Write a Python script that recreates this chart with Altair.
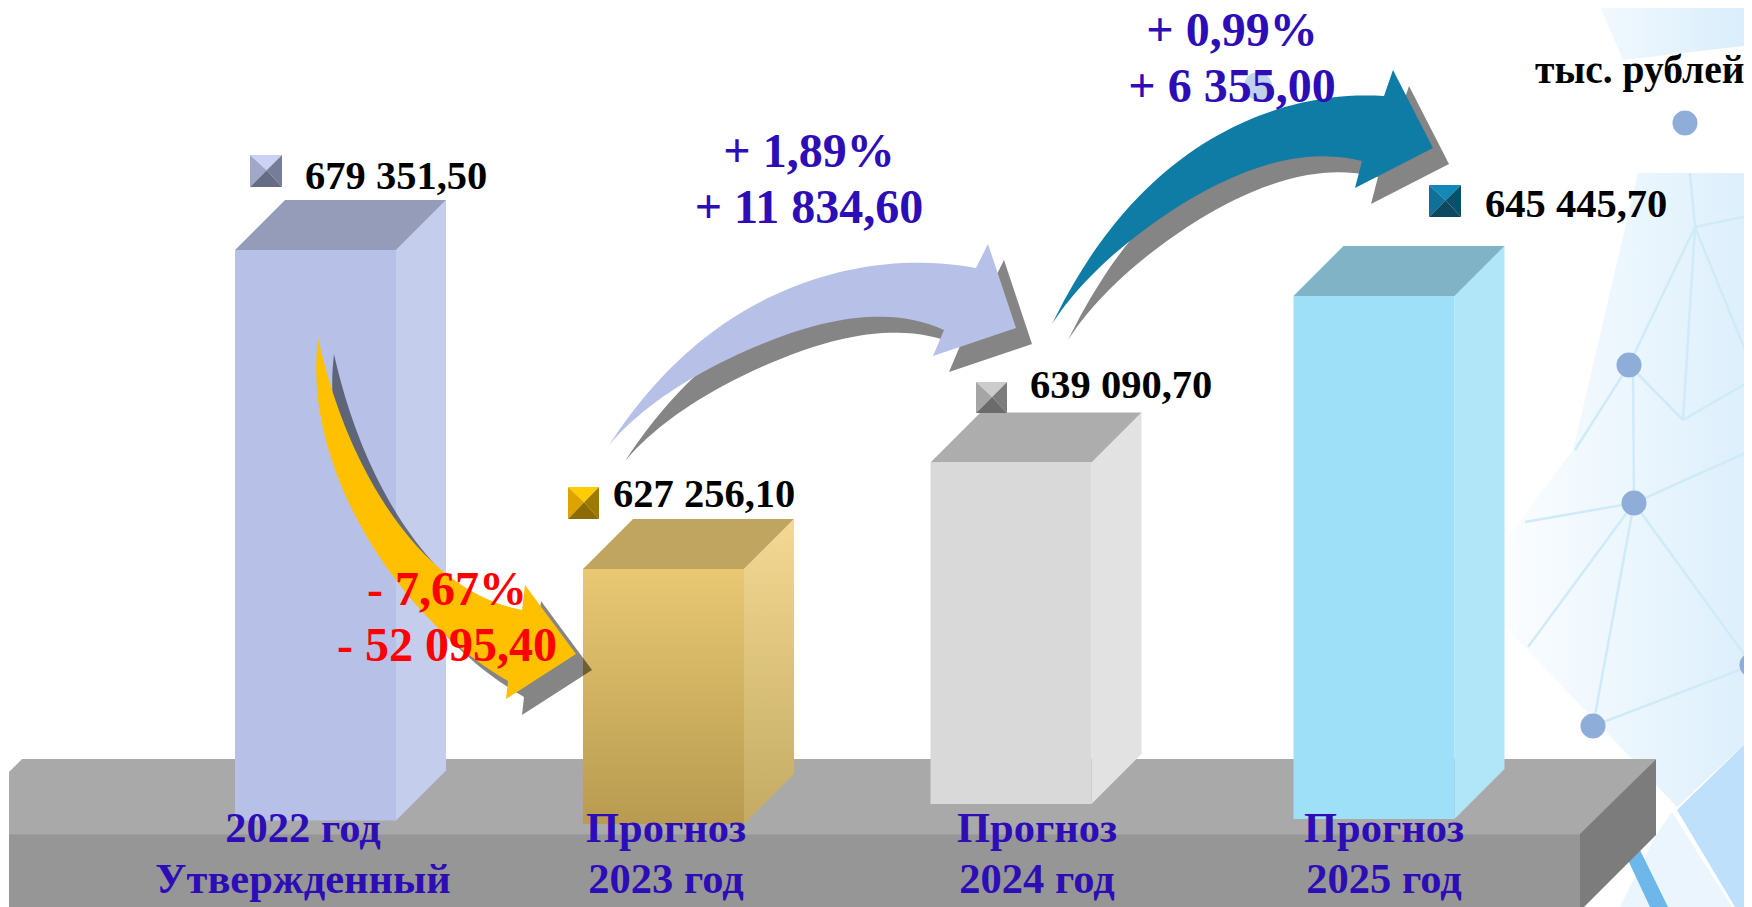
import altair as alt
import numpy as np

# ---- data ----
values = [679351.50, 627256.10, 639090.70, 645445.70]
value_labels = ["679 351,50", "627 256,10", "639 090,70", "645 445,70"]
categories = ["2022 год\nУтвержденный", "Прогноз\n2023 год", "Прогноз\n2024 год", "Прогноз\n2025 год"]
delta_labels = ["- 7,67%\n- 52 095,40", "+ 1,89%\n+ 11 834,60", "+ 0,99%\n+ 6 355,00"]
unit_label = "тыс. рублей"

SERIF = "Liberation Serif"
BLUE_TXT = "#2D0DB5"
OX, OY = 8, 8
W, H = 1736, 899

# The picture's bar heights are not proportional: a piecewise value scale reproduces them.
y_dom = [627256.10, 639090.70, 645445.70, 679351.50]
y_rng = [569, 462.5, 296, 250]
Y_SCALE = alt.Scale(domain=y_dom, range=[v - OY for v in y_rng], zero=False, nice=False)
x_dom = [0, 1, 2, 3]
x_rng = [315.5, 663.5, 1011, 1374]
X_SCALE = alt.Scale(domain=x_dom, range=[v - OX for v in x_rng], zero=False, nice=False)
BAR_W = 161
DEPTH = 50
bottoms = [820.5, 824, 804, 819]

def y_of(v):
    return float(np.interp(v, y_dom, y_rng))

def feat(coords, **props):
    return {"type": "Feature", "properties": props,
            "geometry": {"type": "Polygon", "coordinates": [[list(map(float, p)) for p in coords] + [list(map(float, coords[0]))]]}}

def line_feat(a, b):
    return {"type": "Feature", "properties": {},
            "geometry": {"type": "LineString", "coordinates": [list(map(float, a)), list(map(float, b))]}}

def shapes(feats, **kw):
    kw.setdefault("opacity", 1)
    return alt.Chart(alt.Data(values=feats)).mark_geoshape(**kw).project(type="identity", scale=1, translate=[-OX, -OY])

def flat(coords, color, **kw):
    return shapes([feat(coords)], fill=color, stroke=None, **kw)

def grad(c1, c2, horizontal=False):
    g = dict(x1=0, y1=0, x2=1 if horizontal else 0, y2=0 if horizontal else 1)
    return alt.LinearGradient(gradient="linear", stops=[alt.GradientStop(color=c1, offset=0), alt.GradientStop(color=c2, offset=1)], **g)

def circle(cx, cy, r, n=40):
    return [(cx + r * np.cos(t), cy + r * np.sin(t)) for t in np.linspace(0, 2 * np.pi, n, endpoint=False)]

def smooth(pts, n=48, deg=4):
    """Smooth arrow edge through hand-read outline points (weighted polynomial in chord length)."""
    p = np.array(pts, float)
    s = np.r_[0, np.cumsum(np.hypot(*np.diff(p, axis=0).T))]
    s = s / s[-1]
    w = np.ones(len(p))
    w[[0, -1]] = 30
    fx, fy = np.polyfit(s, p[:, 0], deg, w=w), np.polyfit(s, p[:, 1], deg, w=w)
    t = np.linspace(0, 1, n)
    return list(zip(np.polyval(fx, t), np.polyval(fy, t)))

layers = []

# ---- background decoration ----
layers.append(shapes([feat([(1597, 0), (1623, 60), (1752, 45), (1752, 0)])], fill=grad("#F2F9FE", "#D8EDFB", True), stroke=None))
layers.append(shapes([feat([(1638, 173), (1752, 173), (1752, 737), (1677, 807), (1630, 757), (1505, 627), (1505, 540), (1573, 450)])],
                     fill=grad("#FBFDFF", "#DCEFFC", True), stroke=None))
layers.append(flat([(1677, 810), (1752, 737), (1752, 907), (1735, 907)], "#BFE0FA"))
layers.append(flat([(1656, 835), (1672, 812), (1732, 907), (1620, 907)], "#EAF5FD"))
layers.append(flat([(1628, 860), (1640, 850), (1668, 907), (1650, 907)], "#6DB7EA"))
net = [((1634, 503), (1525, 522)), ((1634, 503), (1528, 647)), ((1634, 503), (1593, 726)), ((1634, 503), (1752, 665)),
       ((1634, 503), (1752, 450)), ((1634, 503), (1633, 365)), ((1593, 726), (1752, 665)), ((1695, 227), (1690, 173)),
       ((1695, 227), (1629, 365)), ((1695, 227), (1752, 367)), ((1695, 227), (1752, 215)), ((1629, 365), (1683, 420)),
       ((1695, 227), (1683, 420)), ((1683, 420), (1752, 380)), ((1629, 365), (1575, 450))]
layers.append(shapes([line_feat(a, b) for a, b in net], filled=False, stroke="#CFEBF8", strokeWidth=2.5))
dots = [(1685, 123), (1629, 365), (1634, 503), (1752, 665), (1593, 726)]
layers.append(shapes([feat(circle(x, y, 12.5)) for x, y in dots], fill="#8FADD9", stroke=None))
layers.append(shapes([feat(circle(1258, 86, 14))], fill="#A9C3E4", stroke=None, opacity=0.75))

# ---- platform ----
layers.append(flat([(9, 772), (22, 759), (1656, 759), (1580, 835), (9, 835)], "#A9A9A9"))
layers.append(flat([(9, 834.5), (1580, 834.5), (1580, 907), (9, 907)], "#969696"))
layers.append(flat([(1580, 834), (1656, 759), (1656, 835), (1580, 911)], "#7C7C7C"))

# ---- 3-D bars ----
styles = [
    dict(front="#B7C1E7", side="#C4CEEC", top="#949CBA"),
    dict(front=grad("#E8C873", "#B89B50"), side=grad("#F3D993", "#C4AB63"), top="#BFA55F"),
    dict(front="#D9D9D9", side="#E2E2E2", top="#ADADAD"),
    dict(front="#9EE0F8", side="#B0E6F8", top="#80B3C6"),
]
for i, st in enumerate(styles):
    row = [{"idx": i, "value": values[i]}]
    cx = x_rng[i]
    L, R = cx - BAR_W / 2, cx + BAR_W / 2
    t, b = y_of(values[i]), bottoms[i]
    layers.append(shapes([feat([(R, t), (R + DEPTH, t - DEPTH), (R + DEPTH, b - DEPTH), (R, b)])], fill=st["side"], stroke=None))
    layers.append(flat([(L, t), (R, t), (R + DEPTH, t - DEPTH), (L + DEPTH, t - DEPTH)], st["top"]))
    layers.append(alt.Chart(alt.Data(values=row)).mark_rect(width=BAR_W, fill=st["front"], opacity=1).encode(
        x=alt.X("idx:Q", scale=X_SCALE, axis=None),
        y=alt.Y("value:Q", scale=Y_SCALE, axis=None),
        y2=alt.value(b - OY)))

# ---- curved arrows (outline) ----
arrow1 = smooth([(318, 338), (317, 375), (323, 428), (340, 486), (367, 536), (397, 580), (433, 624), (473, 658), (508, 681)]) + \
    [(506, 699), (576, 654), (525, 585), (522, 610)] + \
    smooth([(522, 610), (487, 599), (447, 574), (407, 536), (370, 478), (343, 421), (327, 375), (318, 338)])
arrow2 = smooth([(609, 445), (643, 400), (693, 347), (733, 317), (777, 293), (827, 277), (877, 266), (920, 262), (953, 263), (976, 268)]) + \
    [(988, 244), (1016, 328), (933, 356), (944, 330)] + \
    smooth([(944, 330), (913, 321), (870, 317), (817, 323), (760, 347), (683, 383), (630, 423), (609, 445)])
arrow3 = smooth([(1052, 324), (1073, 283), (1103, 240), (1153, 183), (1193, 150), (1237, 125), (1287, 107), (1337, 97), (1367, 95), (1384, 96)]) + \
    [(1393, 70), (1433, 148), (1355, 188), (1362, 161)] + \
    smooth([(1362, 161), (1337, 157), (1287, 161), (1233, 175), (1170, 213), (1117, 253), (1073, 293), (1052, 324)])

arrows = [(arrow1, "#FFC000"), (arrow2, "#B7C1E7"), (arrow3, "#0F7CA5")]
for pts, col in arrows:
    layers.append(shapes([feat([(x + 16, y + 16) for x, y in pts])], fill="#000000", opacity=0.48, stroke=None))
    layers.append(flat(pts, col))

# ---- pyramid markers ----
markers = [
    ((250, 155, 32, 32), ("#CAD2F5", "#A0A8C8", "#767D98", "#666C85")),
    ((568, 487, 31, 32), ("#FFCC00", "#DDA400", "#A07A00", "#8C6C00")),
    ((976, 382, 31, 31), ("#CCCCCC", "#A5A5A5", "#7C7C7C", "#6B6B6B")),
    ((1429, 185, 32, 32), ("#1188B6", "#0E7197", "#0B506B", "#0E4760")),
]
for (x, y, w, h), (top, left, right, bottom) in markers:
    c = (x + w * 0.52, y + h * 0.48)
    a, b_, d, e = (x, y), (x + w, y), (x + w, y + h), (x, y + h)
    layers.append(flat([a, b_, c], top))
    layers.append(flat([a, c, e], left))
    layers.append(flat([b_, d, c], right))
    layers.append(flat([e, c, d], bottom))

# ---- value labels ----
val_offsets = [(-10.5, -61), (-50.5, -62), (19, -65), (111, -79)]
for i, (dx, dy) in enumerate(val_offsets):
    layers.append(alt.Chart(alt.Data(values=[{"idx": i, "value": values[i], "label": value_labels[i]}])).mark_text(
        font=SERIF, fontWeight="bold", fontSize=40.5, color="#000000", align="left", baseline="alphabetic", dx=dx, dy=dy
    ).encode(x=alt.X("idx:Q", scale=X_SCALE, axis=None), y=alt.Y("value:Q", scale=Y_SCALE, axis=None), text="label:N"))

# ---- category labels, delta labels, unit ----
def txt(label, x, y, color, size, align="center", line_height=None):
    kw = {}
    if "\n" in label:
        kw = dict(lineBreak="\n", lineHeight=line_height)
    return alt.Chart(alt.Data(values=[{"label": label}])).mark_text(
        font=SERIF, fontWeight="bold", fontSize=size, color=color, align=align, baseline="alphabetic", **kw
    ).encode(x=alt.value(x - OX), y=alt.value(y - OY), text="label:N")

for lab, cx in zip(categories, [303, 666, 1037, 1384]):
    layers.append(txt(lab, cx, 842, BLUE_TXT, 42.5, line_height=51))
layers.append(txt(delta_labels[0], 447, 605, "#FF0000", 48, line_height=56))
layers.append(txt(delta_labels[1], 809, 167, BLUE_TXT, 48, line_height=56))
layers.append(txt(delta_labels[2], 1232, 46, BLUE_TXT, 48, line_height=56))
layers.append(txt(unit_label, 1535, 83, "#000000", 39.5, align="left"))

chart = alt.layer(*layers).properties(
    width=W, height=H, padding=0, autosize=alt.AutoSizeParams(type="none"), background="white"
).configure_view(stroke=None)

chart.save("out.html", embed_options={"renderer": "svg", "actions": False})
